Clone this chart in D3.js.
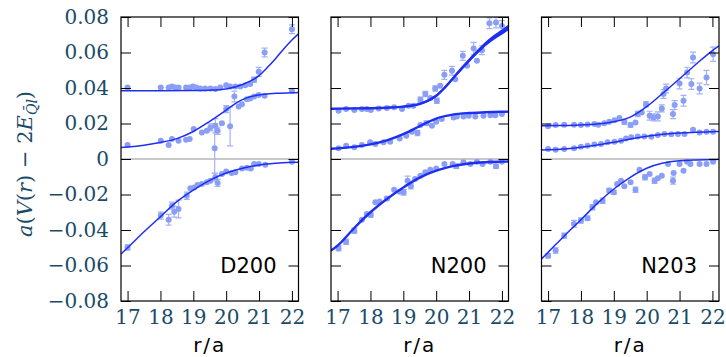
<!DOCTYPE html>
<html><head><meta charset="utf-8">
<script src="https://cdnjs.cloudflare.com/ajax/libs/d3/7.8.5/d3.min.js"></script>
<style>
body { margin:0; background:#fff; }
svg { display:block; }
</style></head><body>
<svg id="chart" width="726" height="357"></svg>
<script>
// ── Axis ticks and panel names ───────────────────────────────────────────────
const xTicks = [17, 18, 19, 20, 21, 22];
const yTicks = [-0.08, -0.06, -0.04, -0.02, 0, 0.02, 0.04, 0.06, 0.08];
const panelNames = ["D200", "N200", "N203"];

// ── Data points: [r/a, value, error] (error 0 -> small default bar) ──────────
const d200Top = [[17.00,0.0403,0],[18.01,0.0403,0],[18.25,0.0403,0],[18.35,0.0409,0],[18.45,0.0403,0],
  [18.55,0.0403,0],[18.78,0.0403,0],[18.89,0.0403,0],[18.99,0.0409,0],[19.09,0.0403,0],[19.21,0.0397,0],
  [19.36,0.0397,0],[19.52,0.0397,0],[19.67,0.0394,0],[19.82,0.0403,0],[20.00,0.0416,0],[20.12,0.0409,0],
  [20.28,0.0409,0],[20.43,0.0409,0],[20.58,0.0416,0],[20.73,0.0422,0],[20.85,0.0446,0.0015],
  [20.99,0.0491,0.0025],[21.17,0.060,0.0025],[22.00,0.0731,0.0025]];
const d200Mid = [[17.00,0.0079,0],[18.01,0.0103,0],[18.25,0.0079,0],[18.35,0.0112,0],[18.55,0.0103,0],
  [18.78,0.0109,0],[18.89,0.0112,0],[19.01,0.0169,0],[19.26,0.0150,0],[19.41,0.0159,0],[19.52,0.0178,0.002],
  [19.67,0.0187,0.004],[19.74,0.0159,0.002],[19.65,0.0060,0.014],[19.87,0.0202,0],[20.00,0.0281,0.002],
  [20.12,0.0184,0.011],[20.25,0.0352,0.003],[20.38,0.0296,0],[20.48,0.0309,0],[20.63,0.0337,0],
  [20.73,0.0341,0],[20.85,0.0352,0],[20.99,0.0360,0],[21.17,0.0356,0],[22.00,0.0384,0]];
const d200Bot = [[17.00,-0.0498,0.0015],[18.01,-0.0319,0.002],[18.25,-0.0342,0.003],[18.35,-0.0263,0.002],
  [18.42,-0.0297,0.003],[18.55,-0.0282,0.005],[18.80,-0.0207,0.002],[18.91,-0.0165,0],[19.03,-0.0160,0],
  [19.13,-0.0146,0],[19.26,-0.0141,0],[19.41,-0.0131,0],[19.52,-0.0122,0],[19.67,-0.0103,0.002],
  [19.74,-0.0135,0.002],[19.87,-0.0085,0],[20.00,-0.0071,0],[20.17,-0.0079,0],[20.28,-0.0075,0],
  [20.48,-0.0053,0],[20.63,-0.0049,0],[20.75,-0.0053,0],[20.85,-0.0028,0],[20.99,-0.0028,0],
  [21.19,-0.0032,0],[22.00,-0.0015,0]];

const n200Top = [[17.03,0.0272,0],[17.26,0.0281,0],[17.51,0.0276,0],[17.74,0.0281,0],[17.89,0.0281,0],
  [18.01,0.0276,0],[18.25,0.0285,0],[18.50,0.0287,0],[18.72,0.0291,0],[18.96,0.0281,0],[19.16,0.0300,0],
  [19.31,0.0300,0],[19.52,0.0334,0.0015],[19.67,0.0366,0.0015],[19.82,0.0343,0],[19.97,0.0397,0.0015],
  [20.02,0.0328,0.0015],[20.12,0.0412,0],[20.25,0.0474,0.0025],[20.48,0.0497,0.0025],[20.58,0.0450,0],
  [20.81,0.0581,0.0025],[20.94,0.0525,0],[21.14,0.0622,0.0035],[21.24,0.0553,0],[21.39,0.0613,0.0025],
  [21.62,0.0765,0.003],[21.82,0.0769,0.003],[22.00,0.0750,0.003]];
const n200Mid = [[17.03,0.0060,0],[17.26,0.0075,0],[17.51,0.0066,0],[17.74,0.0079,0],[17.99,0.0094,0],
  [18.15,0.0084,0],[18.40,0.0094,0],[18.60,0.0097,0],[18.89,0.0116,0],[19.09,0.0131,0],[19.26,0.0154,0],
  [19.43,0.0146,0.0015],[19.52,0.0191,0],[19.70,0.0202,0.0012],[19.87,0.0187,0],[20.00,0.0210,0],
  [20.17,0.0225,0],[20.53,0.0234,0],[20.63,0.0240,0],[20.83,0.0240,0],[20.99,0.0244,0],[21.19,0.0240,0],
  [21.44,0.0244,0],[21.65,0.0247,0],[21.80,0.0247,0],[22.00,0.0253,0]];
const n200Bot = [[17.03,-0.0503,0.0015],[17.26,-0.0466,0.0015],[17.51,-0.0404,0.0015],[17.74,-0.0342,0],
  [17.89,-0.0310,0],[18.01,-0.0316,0.0012],[18.15,-0.0244,0],[18.28,-0.0240,0],[18.50,-0.0222,0.001],
  [18.72,-0.0173,0],[18.89,-0.0184,0],[19.01,-0.0188,0.0015],[19.13,-0.0122,0.0025],[19.23,-0.0154,0.0015],
  [19.36,-0.0113,0],[19.52,-0.0094,0],[19.67,-0.0075,0],[19.82,-0.0060,0],[20.00,-0.0053,0],
  [20.25,-0.0028,0],[20.50,-0.0028,0],[20.61,-0.0041,0.0012],[20.83,-0.0019,0],[21.04,-0.0028,0],
  [21.24,-0.0015,0],[21.41,-0.0028,0],[21.65,-0.0015,0],[21.82,-0.0041,0.0012],[22.00,-0.0015,0]];

const n203Top = [[17.00,0.0184,0],[17.23,0.0191,0],[17.49,0.0193,0],[17.79,0.0193,0],[18.00,0.0191,0],
  [18.20,0.0195,0],[18.41,0.0197,0],[18.53,0.0193,0],[18.71,0.0202,0],[18.86,0.0210,0],[19.02,0.0219,0],
  [19.17,0.0231,0],[19.32,0.0210,0.0015],[19.51,0.0191,0.0012],[19.66,0.0206,0],[19.73,0.0253,0.0015],
  [19.85,0.0262,0],[19.98,0.0309,0.0015],[20.09,0.0244,0.0025],[20.21,0.0234,0.002],[20.34,0.0240,0.0025],
  [20.46,0.0285,0.002],[20.51,0.0366,0.0025],[20.59,0.0397,0.0025],[20.80,0.0253,0.0025],
  [20.85,0.0304,0.0025],[21.00,0.0425,0.003],[21.12,0.0328,0.003],[21.23,0.0487,0.003],
  [21.36,0.0422,0.003],[21.41,0.0572,0.003],[21.61,0.0397,0.003],[21.82,0.0459,0.004],[22.02,0.0590,0.004]];
const n203Mid = [[17.00,0.0056,0],[17.23,0.0052,0],[17.49,0.0056,0],[17.79,0.0060,0],[18.00,0.0069,0],
  [18.20,0.0075,0],[18.41,0.0081,0],[18.61,0.0084,0],[18.81,0.0094,0],[19.02,0.0097,0],[19.22,0.0103,0],
  [19.37,0.0116,0],[19.53,0.0122,0],[19.73,0.0127,0],[19.93,0.0127,0],[20.14,0.0126,0],[20.34,0.0135,0],
  [20.54,0.0141,0],[20.75,0.0139,0],[20.95,0.0141,0],[21.15,0.0141,0],[21.41,0.0165,0],[21.61,0.0150,0],
  [21.82,0.0154,0],[22.02,0.0154,0]];
const n203Bot = [[17.00,-0.0545,0.0012],[17.23,-0.0516,0.0015],[17.49,-0.0432,0.0015],[17.79,-0.0366,0.002],
  [18.00,-0.0347,0.0015],[18.20,-0.0334,0.0012],[18.35,-0.0272,0.0015],[18.46,-0.0244,0],
  [18.66,-0.0235,0.0015],[18.86,-0.0178,0.0012],[19.00,-0.0188,0.0012],[19.10,-0.0141,0],[19.22,-0.0122,0],
  [19.32,-0.0154,0],[19.51,-0.0131,0],[19.66,-0.0173,0.0015],[19.78,-0.0060,0],[19.95,-0.0103,0.0015],
  [20.09,-0.0085,0],[20.24,-0.0122,0.0015],[20.34,-0.0109,0],[20.46,-0.0094,0],[20.65,-0.0028,0],
  [20.80,-0.0122,0.002],[20.82,-0.0079,0],[21.00,-0.0028,0],[21.12,-0.0066,0],[21.23,-0.0015,0],
  [21.33,-0.0028,0],[21.61,-0.0028,0],[21.82,-0.0028,0],[22.02,-0.0015,0]];

// ── Fit curves: [r/a, value] ─────────────────────────────────────────────────
const d200TopFit = [[16.8,0.0385],[17,0.0385],[18,0.0385],[19,0.0386],[19.5,0.0388],[20,0.0395],[20.5,0.0420],
  [21,0.0470],[21.25,0.0515],[21.5,0.0565],[21.75,0.0620],[22,0.0670],[22.2,0.0705]];
const d200MidFit = [[16.8,0.0065],[17,0.0068],[17.5,0.0078],[18,0.0093],[18.5,0.0115],[19,0.0155],[19.5,0.0212],
  [20,0.0275],[20.3,0.0315],[20.6,0.0343],[21,0.0361],[21.5,0.0370],[22,0.0373],[22.2,0.0374]];
const d200BotFit = [[16.8,-0.0535],[17,-0.0500],[17.5,-0.0410],[18,-0.0325],[18.5,-0.0240],[19,-0.0175],
  [19.5,-0.0120],[20,-0.0079],[20.5,-0.0052],[21,-0.0034],[21.5,-0.0024],[22,-0.0019],[22.2,-0.0018]];

const n200TopFit = [[16.8,0.0283],[17,0.0284],[18,0.0286],[18.5,0.0289],[19,0.0295],[19.5,0.0310],[19.8,0.0333],
  [20,0.0356],[20.25,0.0400],[20.5,0.0452],[20.75,0.0505],[21,0.0555],[21.25,0.0603],[21.5,0.0648],
  [21.75,0.0685],[22,0.0715],[22.2,0.0742]];
const n200TopBand = [0.0004,0.0004,0.0004,0.0004,0.0005,0.0006,0.0006,0.0007,0.0008,0.0009,0.0010,0.0011,
  0.0012,0.0013,0.0014,0.0015,0.0016];
const n200MidFit = [[16.8,0.0058],[17,0.0060],[17.5,0.0068],[18,0.0082],[18.5,0.0105],[19,0.0140],[19.5,0.0185],
  [19.8,0.0212],[20,0.0228],[20.5,0.0250],[21,0.0259],[21.5,0.0263],[22,0.0266],[22.2,0.0267]];
const n200BotFit = [[16.8,-0.0516],[17,-0.0488],[17.5,-0.0390],[18,-0.0300],[18.5,-0.0225],[19,-0.0160],
  [19.5,-0.0105],[20,-0.0066],[20.5,-0.0040],[21,-0.0025],[21.5,-0.0018],[22,-0.0015],[22.2,-0.0014]];

const n203TopFit = [[16.8,0.0187],[17,0.0188],[17.5,0.0189],[18,0.0191],[18.5,0.0197],[19,0.0210],[19.5,0.0236],
  [20,0.0295],[20.5,0.0372],[21,0.0452],[21.5,0.0534],[22,0.0611],[22.2,0.0638]];
const n203MidFit = [[16.8,0.0051],[17,0.0052],[17.5,0.0057],[18,0.0066],[18.5,0.0079],[19,0.0095],[19.5,0.0113],
  [20,0.0128],[20.5,0.0139],[21,0.0146],[21.5,0.0151],[22,0.0154],[22.2,0.0155]];
const n203BotFit = [[16.8,-0.0563],[17,-0.0526],[17.5,-0.0432],[18,-0.0342],[18.5,-0.0250],[19,-0.0169],
  [19.5,-0.0103],[20,-0.0052],[20.5,-0.0023],[21,-0.0010],[21.5,-0.0005],[22,-0.0003],[22.2,-0.0002]];

// ── Layout & style ──────────────────────────────────────────────────────────
const TOP = 17, BOTTOM = 301, PW = 177.5;
const lefts = [121, 331, 541.5];
const tickColor = "#1a4b68";
const ptColor = "#8b9ef6", barColor = "#a3b2f7", fitColor = "#1f2ff0";

const panels = [
  { sets: [d200Top, d200Mid, d200Bot], fits: [d200TopFit, d200MidFit, d200BotFit], lw: 1.5 },
  { sets: [n200Top, n200Mid, n200Bot], fits: [n200TopFit, n200MidFit, n200BotFit], lw: 2.4, band: n200TopBand },
  { sets: [n203Top, n203Mid, n203Bot], fits: [n203TopFit, n203MidFit, n203BotFit], lw: 1.5 }
];

const svg = d3.select("#chart");
const y = d3.scaleLinear().domain([-0.08, 0.08]).range([BOTTOM, TOP]);
const fmtY = v => Math.abs(v) < 1e-9 ? "0" : d3.format(".2f")(v);

panels.forEach(function(p, i) {
  const left = lefts[i];
  const x = d3.scaleLinear().domain([16.8, 22.2]).range([left, left + PW]);
  const g = svg.append("g");

  g.append("clipPath").attr("id", "clip" + i)
    .append("rect").attr("x", left).attr("y", TOP).attr("width", PW).attr("height", BOTTOM - TOP);
  const plot = g.append("g").attr("clip-path", "url(#clip" + i + ")");

  // zero line
  plot.append("line")
    .attr("x1", left).attr("x2", left + PW).attr("y1", y(0)).attr("y2", y(0))
    .attr("stroke", "#c8c8c8").attr("stroke-width", 2);

  // error bars + points
  p.sets.forEach(function(set) {
    const eb = plot.append("g").attr("stroke", barColor).attr("stroke-width", 1.2).attr("fill", "none");
    set.forEach(function(d) {
      const e = d[2] || 0.0006;
      const cx = x(d[0]), y0 = y(d[1] - e), y1 = y(d[1] + e);
      eb.append("line").attr("x1", cx).attr("x2", cx).attr("y1", y0).attr("y2", y1);
      if (d[2]) {
        eb.append("line").attr("x1", cx - 3).attr("x2", cx + 3).attr("y1", y0).attr("y2", y0);
        eb.append("line").attr("x1", cx - 3).attr("x2", cx + 3).attr("y1", y1).attr("y2", y1);
      }
    });
    plot.append("g").selectAll("circle").data(set).join("circle")
      .attr("cx", d => x(d[0])).attr("cy", d => y(d[1])).attr("r", 3)
      .attr("fill", ptColor);
  });

  // fit band (N200 top)
  if (p.band) {
    const fit = p.fits[0];
    plot.append("path")
      .datum(fit.map((d, k) => [d[0], d[1] - p.band[k], d[1] + p.band[k]]))
      .attr("fill", fitColor)
      .attr("d", d3.area().x(d => x(d[0])).y0(d => y(d[1])).y1(d => y(d[2])).curve(d3.curveMonotoneX));
  }

  // fit lines
  const line = d3.line().x(d => x(d[0])).y(d => y(d[1])).curve(d3.curveMonotoneX);
  p.fits.forEach(function(f) {
    plot.append("path").datum(f).attr("fill", "none")
      .attr("stroke", fitColor).attr("stroke-width", p.lw).attr("d", line);
  });

  // axes with inward ticks
  const styleAxis = function(sel) {
    sel.select(".domain").remove();
    sel.selectAll(".tick line").attr("stroke", "#000").attr("stroke-width", 1);
    sel.selectAll(".tick text").attr("fill", tickColor)
      .style("font-family", "'DejaVu Serif', serif").style("font-size", "20px");
  };
  g.append("g").attr("transform", "translate(0," + BOTTOM + ")")
    .call(d3.axisBottom(x).tickValues(xTicks).tickSize(-10).tickPadding(9).tickFormat(d3.format("d")))
    .call(styleAxis);
  g.append("g").attr("transform", "translate(0," + TOP + ")")
    .call(d3.axisTop(x).tickValues(xTicks).tickSize(-10).tickFormat(""))
    .call(styleAxis);
  g.append("g").attr("transform", "translate(" + left + ",0)")
    .call(d3.axisLeft(y).tickValues(yTicks).tickSize(-10).tickPadding(12).tickFormat(i === 0 ? fmtY : ""))
    .call(styleAxis);
  g.append("g").attr("transform", "translate(" + (left + PW) + ",0)")
    .call(d3.axisRight(y).tickValues(yTicks).tickSize(-10).tickFormat(""))
    .call(styleAxis);

  // frame
  g.append("rect").attr("x", left).attr("y", TOP).attr("width", PW).attr("height", BOTTOM - TOP)
    .attr("fill", "none").attr("stroke", "#000").attr("stroke-width", 1.2);

  // panel label
  g.append("text").attr("x", left + PW - 22).attr("y", 273).attr("text-anchor", "end")
    .style("font-family", "'DejaVu Sans', sans-serif").style("font-size", "21px").attr("fill", "#000")
    .text(panelNames[i]);

  // x label
  g.append("text").attr("x", left + PW / 2).attr("y", 352).attr("text-anchor", "middle")
    .style("font-family", "'DejaVu Sans', sans-serif").style("font-size", "20px")
    .style("letter-spacing", "2px").attr("fill", "#000")
    .text("r/a");
});

// y label
const yl = svg.append("text")
  .attr("transform", "translate(32,164) rotate(-90)")
  .attr("text-anchor", "middle").attr("fill", tickColor)
  .style("font-family", "'DejaVu Serif', serif").style("font-size", "21px");
yl.append("tspan").style("font-style", "italic").text("a");
yl.append("tspan").text("(");
yl.append("tspan").style("font-style", "italic").text("V");
yl.append("tspan").text("(");
yl.append("tspan").style("font-style", "italic").text("r");
yl.append("tspan").text(") − 2");
yl.append("tspan").style("font-style", "italic").text("E");
yl.append("tspan").attr("dy", 5).style("font-style", "italic").style("font-size", "14px").text("Q\u0304l");
yl.append("tspan").attr("dy", -5).text(")");
</script>
</body></html>
